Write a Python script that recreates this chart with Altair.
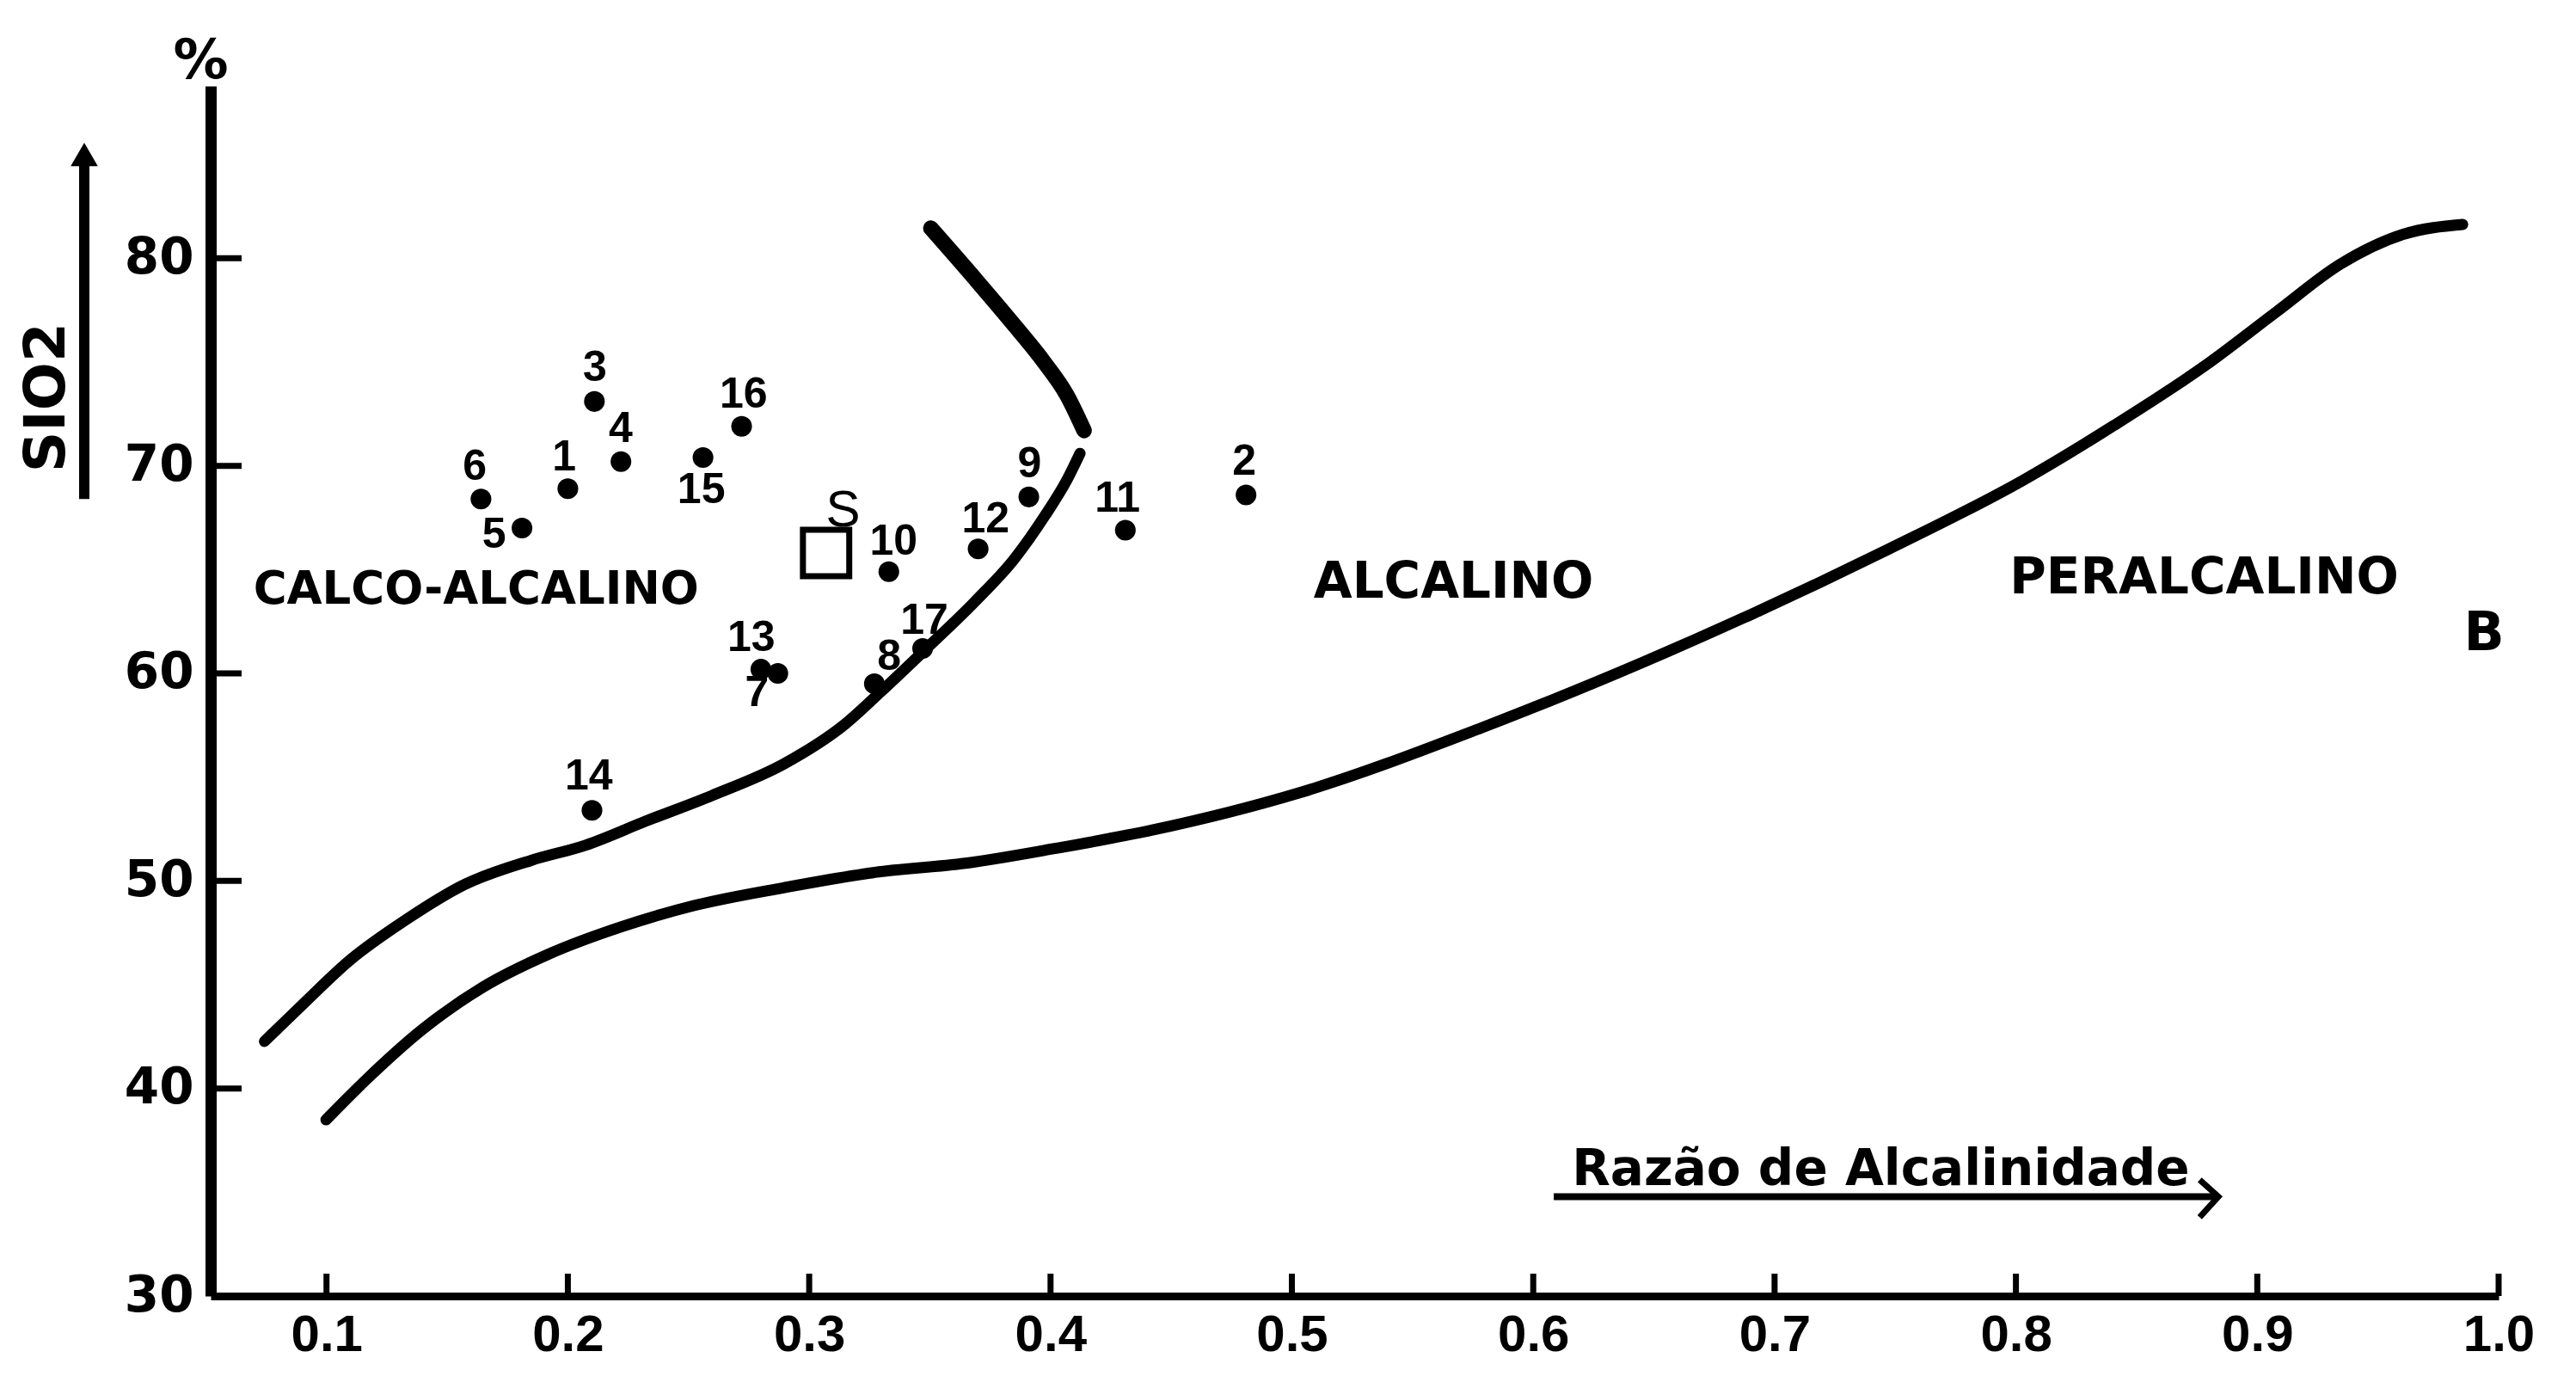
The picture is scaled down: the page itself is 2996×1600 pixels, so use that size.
import altair as alt
import pandas as pd

# ---------------- data ----------------
sample_ids = ["1", "2", "3", "4", "5", "6", "7", "8", "9", "10",
              "11", "12", "13", "14", "15", "16", "17"]
sample_x = [0.200, 0.481, 0.211, 0.222, 0.181, 0.164, 0.287, 0.327, 0.391, 0.333,
            0.431, 0.370, 0.280, 0.210, 0.256, 0.272, 0.347]
sample_y = [68.9, 68.6, 73.1, 70.2, 67.0, 68.4, 60.0, 59.5, 68.5, 64.9,
            66.9, 66.0, 60.2, 53.4, 70.4, 71.9, 61.2]
label_x = [0.1985, 0.4803, 0.2112, 0.2219, 0.1694, 0.1614, 0.2784, 0.3331, 0.3913, 0.3350,
           0.4277, 0.3731, 0.2760, 0.2087, 0.2553, 0.2728, 0.3477]
label_y = [70.42, 70.19, 74.70, 71.76, 66.68, 69.94, 59.06, 60.80, 70.06, 66.33,
           68.40, 67.43, 61.68, 55.01, 68.83, 73.43, 62.53]

s_name = ["S"]
s_x = [0.307]
s_y = [65.8]
s_label_x = [0.314]
s_label_y = [67.85]

curve_a_x = [0.0743, 0.0898, 0.1098, 0.1323, 0.1573, 0.1848, 0.2073, 0.2323, 0.2598,
             0.2897, 0.3147, 0.3299, 0.3486, 0.3686, 0.3849, 0.3977, 0.4067, 0.4122]
curve_a_y = [42.27, 44.01, 46.19, 48.08, 49.83, 50.99, 51.72, 52.88, 54.12,
             55.65, 57.54, 59.14, 61.20, 63.45, 65.50, 67.60, 69.30, 70.60]

curve_top_x = [0.3504, 0.3688, 0.3866, 0.3973, 0.4068, 0.4139]
curve_top_y = [81.45, 79.00, 76.55, 75.00, 73.40, 71.70]

curve_b_x = [0.0998, 0.1173, 0.1398, 0.1648, 0.1922, 0.2222, 0.2522, 0.2897, 0.3272,
             0.3647, 0.4022, 0.4422, 0.5032, 0.5782, 0.6344, 0.6907, 0.7470, 0.8032,
             0.8407, 0.8783, 0.9083, 0.9345, 0.9607, 0.9851]
curve_b_y = [38.49, 40.52, 42.85, 44.88, 46.48, 47.79, 48.81, 49.68, 50.41,
             50.85, 51.57, 52.45, 54.25, 57.36, 59.99, 62.86, 65.97, 69.32,
             71.95, 74.82, 77.45, 79.72, 81.16, 81.63]

calco_name = ["CALCO-ALCALINO"]
calco_x = [0.162]
calco_y = [64.0]

region_names = ["ALCALINO", "PERALCALINO"]
region_x = [0.567, 0.878]
region_y = [64.36, 64.54]

panel_name = ["B"]
panel_x = [0.994]
panel_y = [61.9]

x_title_text = ["Razão de Alcalinidade"]
x_title_x = [0.616]
x_title_y = [35.33]
x_arrow_x1 = [0.6085]
x_arrow_x2 = [0.8839]
x_arrow_y = [34.79]

y_title_text = ["SIO2"]
y_title_y = [73.29]
y_arrow_y1 = [68.4]
y_arrow_y2 = [84.6]
y_arrow_head = [85.0]

x_tick_values = [0.1, 0.2, 0.3, 0.4, 0.5, 0.6, 0.7, 0.8, 0.9, 1.0]
y_label_values = [30, 40, 50, 60, 70, 80]
y_tick_values = [40, 50, 60, 70, 80]

# ---------------- layout ----------------
X_DOMAIN = [0.052, 1.0]
Y_DOMAIN = [30, 88.3]
W, H = 2661, 1407

xscale = alt.Scale(domain=X_DOMAIN, nice=False, zero=False)
yscale = alt.Scale(domain=Y_DOMAIN, nice=False, zero=False)

xaxis = alt.Axis(values=x_tick_values, format=".1f", title=None, grid=False,
                 ticks=False, tickSize=0, domain=True, domainColor="black",
                 domainWidth=9, labelFont="Liberation Sans", labelFontSize=60,
                 labelFontWeight="bold", labelColor="black", labelPadding=16,
                 labelFlush=False, labelOverlap=False)
yaxis = alt.Axis(values=y_label_values, format="d", title="%", titleAngle=0,
                 titleX=-12, titleY=-10, titleAlign="center",
                 titleBaseline="alphabetic", titleFont="DejaVu Sans",
                 titleFontSize=64, titleFontWeight="bold", titleColor="black",
                 grid=False, ticks=False, tickSize=0, domain=True,
                 domainColor="black", domainWidth=13, labelFont="DejaVu Sans",
                 labelFontSize=58, labelFontWeight="bold", labelColor="black",
                 labelPadding=20, labelFlush=False, labelOverlap=False)


def X(f="x"):
    return alt.X(f"{f}:Q", scale=xscale, axis=xaxis)


def Y(f="y"):
    return alt.Y(f"{f}:Q", scale=yscale, axis=yaxis)


def curve(xs, ys, width):
    df = pd.DataFrame({"x": xs, "y": ys, "i": list(range(len(xs)))})
    return alt.Chart(df).mark_line(color="black", strokeWidth=width,
                                   strokeCap="round", strokeJoin="round",
                                   interpolate="monotone").encode(
        x=X(), y=Y(), order="i:Q")


layer_b = curve(curve_b_x, curve_b_y, 13)
layer_a = curve(curve_a_x, curve_a_y, 13)
layer_top = curve(curve_top_x, curve_top_y, 18)

ytick_df = pd.DataFrame({"v": y_tick_values})
ytick = alt.Chart(ytick_df).mark_rule(color="black", strokeWidth=7).encode(
    y=Y("v"), x=alt.value(0), x2=alt.value(36))

xtick_df = pd.DataFrame({"v": x_tick_values})
xtick = alt.Chart(xtick_df).mark_rule(color="black", strokeWidth=7).encode(
    x=X("v"), y=alt.value(H), y2=alt.value(H - 26))

pts_df = pd.DataFrame({"x": sample_x, "y": sample_y, "id": sample_ids,
                       "lx": label_x, "ly": label_y})
dots = alt.Chart(pts_df).mark_circle(color="black", size=580, opacity=1).encode(
    x=X(), y=Y())
dot_labels = alt.Chart(pts_df).mark_text(
    font="Liberation Sans Narrow, Liberation Sans", fontSize=50, fontWeight="bold",
    color="black", align="center", baseline="middle").encode(
    x=X("lx"), y=Y("ly"), text="id:N")

s_df = pd.DataFrame({"x": s_x, "y": s_y, "t": s_name,
                     "lx": s_label_x, "ly": s_label_y})
square = alt.Chart(s_df).mark_square(filled=False, color="black", size=2900,
                                     strokeWidth=7, opacity=1).encode(x=X(), y=Y())
s_label = alt.Chart(s_df).mark_text(font="Liberation Sans", fontSize=60,
                                    color="black", align="center",
                                    baseline="middle").encode(
    x=X("lx"), y=Y("ly"), text="t:N")

calco_df = pd.DataFrame({"x": calco_x, "y": calco_y, "t": calco_name})
calco = alt.Chart(calco_df).mark_text(font="DejaVu Sans", fontSize=53,
                                      fontWeight="bold", color="black",
                                      align="center", baseline="middle").encode(
    x=X(), y=Y(), text="t:N")

reg_df = pd.DataFrame({"x": region_x, "y": region_y, "t": region_names})
regions = alt.Chart(reg_df).mark_text(font="DejaVu Sans", fontSize=58,
                                      fontWeight="bold", color="black",
                                      align="center", baseline="middle").encode(
    x=X(), y=Y(), text="t:N")

panel_df = pd.DataFrame({"x": panel_x, "y": panel_y, "t": panel_name})
panel = alt.Chart(panel_df).mark_text(font="DejaVu Sans", fontSize=62,
                                      fontWeight="bold", color="black",
                                      align="center", baseline="middle").encode(
    x=X(), y=Y(), text="t:N")

xt_df = pd.DataFrame({"x": x_title_x, "y": x_title_y, "t": x_title_text,
                      "x1": x_arrow_x1, "x2": x_arrow_x2, "ay": x_arrow_y})
xt_text = alt.Chart(xt_df).mark_text(font="DejaVu Sans", fontSize=58,
                                     fontWeight="bold", color="black",
                                     align="left", baseline="alphabetic").encode(
    x=X(), y=Y(), text="t:N")
xt_arrow = alt.Chart(xt_df).mark_rule(color="black", strokeWidth=8).encode(
    x=X("x1"), x2="x2:Q", y=Y("ay"))
xt_head = alt.Chart(xt_df).mark_point(shape="M-1,-0.9L0,0L-1,1.1", filled=False,
                                      color="black", strokeWidth=7, size=1900,
                                      opacity=1).encode(x=X("x2"), y=Y("ay"))

yt_df = pd.DataFrame({"y": y_title_y, "t": y_title_text, "y1": y_arrow_y1,
                      "y2": y_arrow_y2, "yh": y_arrow_head})
yt_text = alt.Chart(yt_df).mark_text(font="DejaVu Sans", fontSize=66,
                                     fontWeight="bold", color="black", angle=270,
                                     align="center", baseline="middle").encode(
    x=alt.value(-190), y=Y(), text="t:N")
yt_arrow = alt.Chart(yt_df).mark_rule(color="black", strokeWidth=12).encode(
    x=alt.value(-147), y=Y("y1"), y2="y2:Q")
yt_head = alt.Chart(yt_df).mark_point(shape="triangle-up", filled=True,
                                      color="black", size=1000, opacity=1).encode(
    x=alt.value(-147), y=Y("yh"))

chart = alt.layer(
    layer_b, layer_a, layer_top, ytick, xtick, dots, square, dot_labels, s_label,
    calco, regions, panel, xt_text, xt_arrow, xt_head, yt_text, yt_arrow, yt_head
).properties(
    width=W, height=H,
    padding={"left": 245, "top": 100, "right": 90, "bottom": 93},
    autosize=alt.AutoSizeParams(type="none"),
    background="white",
).configure_view(stroke=None)

chart.save("out.html", embed_options={"renderer": "svg", "actions": False})
